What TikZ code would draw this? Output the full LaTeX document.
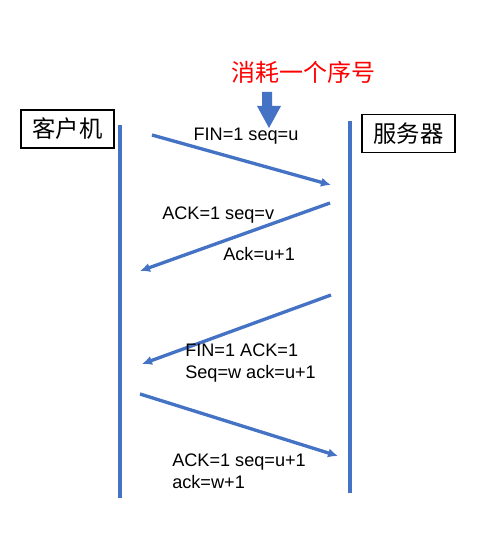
\documentclass[tikz,border=0pt]{standalone}
\usepackage{fontspec}
\setmainfont{Liberation Sans}
\newfontfamily\cjk{Noto Sans CJK SC}
\usetikzlibrary{arrows.meta}
\definecolor{linkblue}{HTML}{4472C4}

\begin{document}
\begin{tikzpicture}[x=0.75pt, y=-0.75pt]
    \useasboundingbox (0,0) rectangle (490,559);
    \tikzset{
      hostbox/.style = {draw, line width=0.8pt, minimum width=69.75pt, minimum height=28.5pt,
                        font=\cjk\fontsize{17.5}{17.5}\selectfont},
      lifeline/.style = {draw=linkblue, line width=2.5pt},
      msg/.style = {draw=linkblue, line width=2.5pt, -{Latex[length=7.5pt,width=7pt]}},
      msglabel/.style = {inner sep=0pt, align=left, font=\fontsize{13.6}{16.5}\selectfont},
    }

    % Hosts
    \node[hostbox] (client) at (67.5,129) {客户机};
    \node[hostbox] (server) at (408.5,133.5) {服务器};

    % Lifelines
    \coordinate (c top) at (120,125);
    \coordinate (c bot) at (120,498);
    \coordinate (s top) at (350,121);
    \coordinate (s bot) at (350,493);
    \draw[lifeline] (c top) -- (c bot);
    \draw[lifeline] (s top) -- (s bot);

    % Note
    \node[text=red, font=\cjk\fontsize{18}{18}\selectfont] (note) at (303,72) {消耗一个序号};
    \fill[linkblue] (262,92) -- (272,92) -- (272,106) -- (281,106) -- (269,128)
                    -- (257,106) -- (262,106) -- cycle;

    % Messages
    \coordinate (m1a) at (152,135);  \coordinate (m1b) at (331,185);
    \coordinate (m2a) at (330,203);  \coordinate (m2b) at (140,271);
    \coordinate (m3a) at (331,295);  \coordinate (m3b) at (142,364);
    \coordinate (m4a) at (140,394);  \coordinate (m4b) at (338,456);
    \draw[msg] (m1a) -- (m1b);
    \draw[msg] (m2a) -- (m2b);
    \draw[msg] (m3a) -- (m3b);
    \draw[msg] (m4a) -- (m4b);

    % Labels
    \node[msglabel] (l1) at (246,136) {FIN=1 seq=u};
    \node[msglabel, anchor=west] (l2) at (162,215) {ACK=1 seq=v};
    \node[msglabel, anchor=west] (l2b) at (223,254) {Ack=u+1};
    \node[msglabel, anchor=west] (l3) at (185,363) {FIN=1 ACK=1\\Seq=w ack=u+1};
    \node[msglabel, anchor=west] (l4) at (172,471) {ACK=1 seq=u+1\\ack=w+1};
\end{tikzpicture}
\end{document}
